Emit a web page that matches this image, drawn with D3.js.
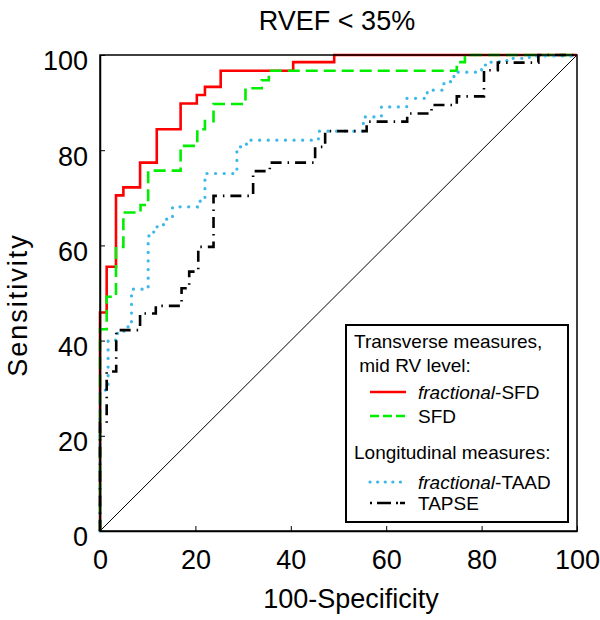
<!DOCTYPE html>
<html>
<head>
<meta charset="utf-8">
<script src="https://cdn.jsdelivr.net/npm/d3@7"></script>
<style>
  html, body { margin: 0; padding: 0; background: #fff; }
  svg { display: block; font-family: "Liberation Sans", Arial, Helvetica, sans-serif; }
</style>
</head>
<body>
<svg id="chart" width="600" height="620"></svg>
<script>
// ---- Data (100-Specificity, Sensitivity) ROC step corners ----
const title = "RVEF < 35%";
const xLabel = "100-Specificity";
const yLabel = "Sensitivity";
const tickValues = [0, 20, 40, 60, 80, 100];

const fracSFD_x = [0, 1.4, 3.35, 4.9, 8.4, 11.9, 16.9, 20.3, 22.0, 25.3, 40.5, 49.1, 100];
const fracSFD_y = [0, 45.9, 55.5, 70.5, 72.2, 77.4, 84.4, 89.8, 91.6, 93.3, 96.7, 98.5, 100];

const SFD_x = [0, 1.4, 3.35, 4.9, 8.5, 10.1, 16.9, 20.4, 22.0, 23.8, 30.5, 33.9, 35.4, 74.8, 76.5, 100];
const SFD_y = [0, 42.4, 49.2, 59.7, 66.9, 68.5, 75.7, 80.9, 84.4, 86.1, 89.7, 93.0, 94.7, 96.7, 98.5, 100];

const fracTAAD_x = [0, 1.7, 3.5, 5.0, 6.6, 10.1, 10.8, 11.9, 13.3, 15.2, 20.4, 22.0, 28.7, 30.7, 45.8, 55.2, 59.0, 64.3, 68.6, 72.1, 74.2, 80.0, 82.0, 85.3, 90.0, 99.0, 100];
const fracTAAD_y = [0, 29.6, 40.1, 41.5, 42.9, 50.8, 62.0, 62.8, 63.9, 65.5, 68.1, 69.3, 75.1, 80.7, 82.1, 84.0, 87.0, 89.1, 90.9, 92.6, 94.4, 96.4, 97.9, 98.6, 99.3, 99.8, 100];

const TAPSE_x = [0, 1.4, 3.4, 8.4, 11.7, 17.1, 18.7, 20.6, 23.8, 32.1, 35.6, 45.1, 47.2, 55.9, 64.4, 69.5, 74.8, 80.5, 83.4, 91.9, 100];
const TAPSE_y = [0, 22.7, 33.5, 42.2, 45.7, 47.3, 51.0, 54.5, 59.7, 70.4, 75.6, 77.4, 80.7, 84.0, 86.0, 87.7, 89.5, 91.3, 96.8, 98.4, 100];

const legendHeader1 = ["Transverse measures,", " mid RV level:"];
const legendHeader2 = ["Longitudinal measures:"];
const seriesNames = ["fractional-SFD", "SFD", "fractional-TAAD", "TAPSE"];

// ---- Layout ----
const svg = d3.select("#chart");
const mLeft = 100, mRight = 577, mTop = 55, mBottom = 531;
const x = d3.scaleLinear().domain([0, 100]).range([mLeft, mRight]);
const y = d3.scaleLinear().domain([0, 100]).range([mBottom, mTop]);

const styles = [
  { color: "#ff0000", width: 2.6, dash: null, cap: "butt" },
  { color: "#00ee00", width: 2.6, dash: "12,6", cap: "butt" },
  { color: "#3db8ea", width: 3.2, dash: "0.1,8.5", cap: "round" },
  { color: "#000000", width: 2.6, dash: "11,6,1.5,6", cap: "butt" }
];
const series = [
  d3.zip(fracSFD_x, fracSFD_y),
  d3.zip(SFD_x, SFD_y),
  d3.zip(fracTAAD_x, fracTAAD_y),
  d3.zip(TAPSE_x, TAPSE_y)
];

// Diagonal reference
svg.append("line")
  .attr("x1", x(0)).attr("y1", y(0)).attr("x2", x(100)).attr("y2", y(100))
  .attr("stroke", "#000").attr("stroke-width", 1);

const line = d3.line().x(d => x(d[0])).y(d => y(d[1])).curve(d3.curveStepBefore);

series.forEach((s, i) => {
  const st = styles[i];
  svg.append("path")
    .attr("d", line(s))
    .attr("fill", "none")
    .attr("stroke", st.color)
    .attr("stroke-width", st.width)
    .attr("stroke-dasharray", st.dash)
    .attr("stroke-linecap", st.cap);
});

// Frame
svg.append("rect")
  .attr("x", mLeft).attr("y", mTop).attr("width", mRight - mLeft).attr("height", mBottom - mTop)
  .attr("fill", "none").attr("stroke", "#000").attr("stroke-width", 1.5);

// Axes
const xAxis = d3.axisBottom(x).tickValues(tickValues).tickSizeInner(-5).tickSizeOuter(0).tickPadding(19);
const yAxis = d3.axisLeft(y).tickValues(tickValues).tickSizeInner(-5).tickSizeOuter(0).tickPadding(12);

const gx = svg.append("g").attr("transform", `translate(0,${mBottom})`).call(xAxis);
const gy = svg.append("g").attr("transform", `translate(${mLeft},0)`).call(yAxis);
[gx, gy].forEach(g => {
  g.select(".domain").attr("stroke", "#000").attr("stroke-width", 1.5);
  g.selectAll(".tick line").attr("stroke", "#000").attr("stroke-width", 1);
  g.selectAll(".tick text").attr("fill", "#000").style("font-size", "27px")
    .style("font-family", "'Liberation Sans', Arial, sans-serif");
});
gx.selectAll(".tick text").attr("dy", "0.72em");
gy.selectAll(".tick text").attr("dy", "0.55em");

// Titles
svg.append("text").attr("x", 337).attr("y", 30).attr("text-anchor", "middle")
  .style("font-size", "27px").text(title);
svg.append("text").attr("x", 351).attr("y", 608).attr("text-anchor", "middle")
  .style("font-size", "27px").text(xLabel);
svg.append("text").attr("transform", "translate(27,305) rotate(-90)").attr("text-anchor", "middle")
  .style("font-size", "27px").style("letter-spacing", "2px").text(yLabel);

// Legend
const lg = svg.append("g");
lg.append("rect").attr("x", 346).attr("y", 325).attr("width", 222).attr("height", 197)
  .attr("fill", "#fff").attr("stroke", "#000").attr("stroke-width", 2);
const lfs = "19px";
lg.append("text").attr("x", 354).attr("y", 348).style("font-size", lfs).text(legendHeader1[0]);
lg.append("text").attr("x", 354).attr("y", 372).style("font-size", lfs).attr("xml:space", "preserve").text(legendHeader1[1]);
lg.append("text").attr("x", 354).attr("y", 459).style("font-size", lfs).text(legendHeader2[0]);

const entryY = [392, 416, 482, 503];
const legendDash = ["", "9,4", "0.1,7.5", "2,5,14,5,2"];
seriesNames.forEach((name, i) => {
  const st = styles[i];
  lg.append("line").attr("x1", 370).attr("x2", 406).attr("y1", entryY[i]).attr("y2", entryY[i])
    .attr("stroke", st.color).attr("stroke-width", st.width)
    .attr("stroke-dasharray", legendDash[i] || null).attr("stroke-linecap", st.cap);
  const t = lg.append("text").attr("x", 418).attr("y", entryY[i] + 7).style("font-size", lfs);
  if (name.startsWith("fractional-")) {
    t.append("tspan").style("font-style", "italic").text("fractional");
    t.append("tspan").text(name.slice("fractional".length));
  } else {
    t.text(name);
  }
});
</script>
</body>
</html>
